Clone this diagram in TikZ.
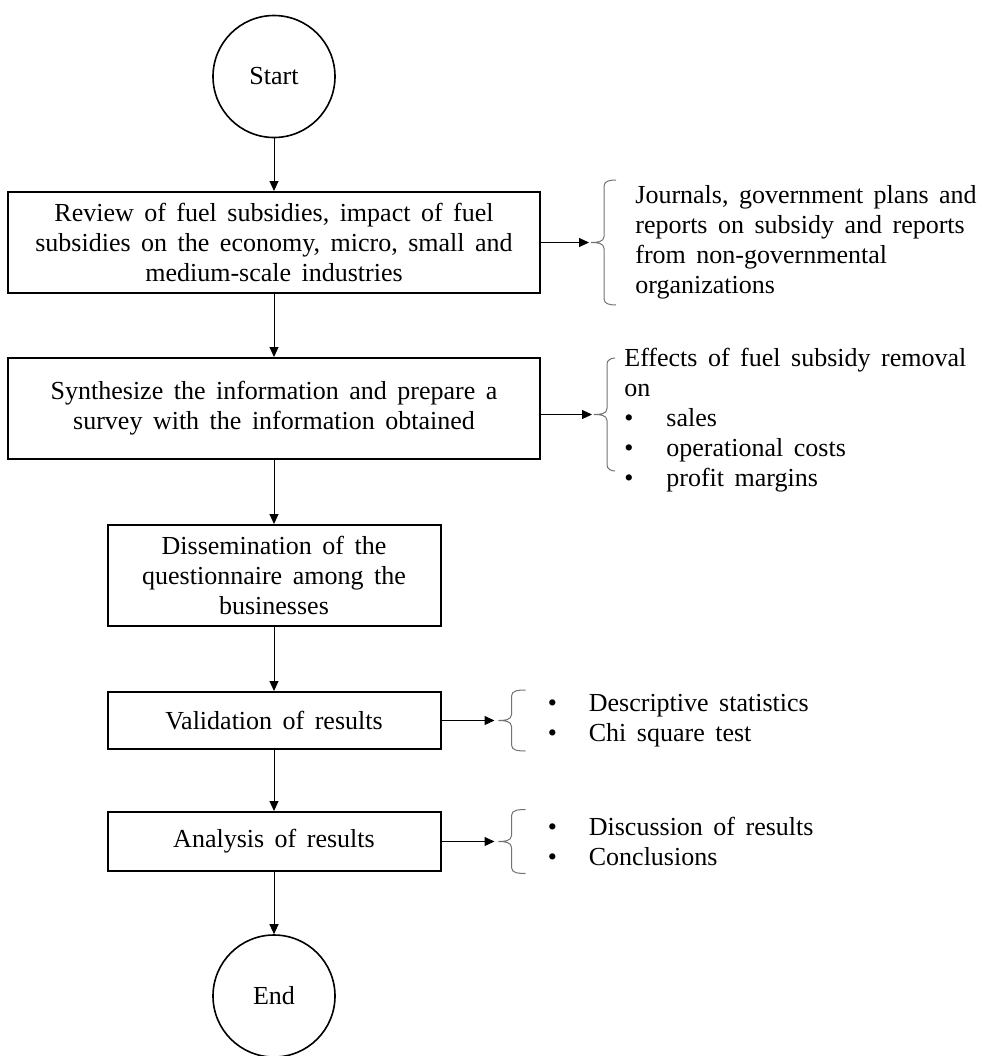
\documentclass[tikz,border=0pt]{standalone}
\usepackage{fontspec}
\setmainfont{Liberation Serif}
\usetikzlibrary{arrows.meta}

\begin{document}
\begin{tikzpicture}[node distance=83pt, >={Triangle[length=5pt,width=4.5pt]}]
    \tikzstyle{terminal} = [circle, draw, line width=0.8pt, minimum size=61pt, font={\fontsize{13pt}{15pt}\selectfont\spaceskip 5.25pt\relax}]
    \tikzstyle{wide} = [rectangle, draw, line width=1pt, minimum width=266pt, minimum height=50.5pt, align=center, font={\fontsize{13pt}{15pt}\selectfont\spaceskip 5.25pt\relax}]
    \tikzstyle{narrow} = [rectangle, draw, line width=1pt, minimum width=166.5pt, minimum height=28.5pt, align=center, font={\fontsize{13pt}{15pt}\selectfont\spaceskip 5.25pt\relax}]
    \tikzstyle{note} = [anchor=west, align=left, inner sep=0pt, font={\fontsize{13pt}{15pt}\selectfont\spaceskip 5.25pt\relax}]
    \tikzstyle{link} = [->, line width=0.5pt]
    \tikzstyle{curly} = [draw=black!55, line width=0.5pt]

    \useasboundingbox (0,0) rectangle (493.5pt,-528pt);

    % Main flow
    \node [terminal] (start) at (137pt,-38.25pt) {Start};
    \node [wide, below of=start] (review) {Review of fuel subsidies, impact of fuel\\subsidies on the economy, micro, small and\\medium-scale industries};
    \node [wide, below of=review] (synth) {Synthesize the information and prepare a\\survey with the information obtained};
    \node [narrow, below of=synth, minimum height=50.5pt, yshift=-0.5pt] (dissem) {Dissemination of the\\questionnaire among the\\businesses};
    \node [narrow, below of=dissem, yshift=10.5pt] (valid) {Validation of results};
    \node [narrow, below of=valid, yshift=22.5pt, minimum height=29.5pt] (analysis) {Analysis of results};
    \node [terminal, below of=analysis, yshift=5.75pt] (stop) {End};

    % Side notes
    \node [note] (sources) at ([xshift=47pt]review.east) {Journals, government plans and\\reports on subsidy and reports\\from non-governmental\\organizations};
    \node [note] (effects) at ([xshift=41.5pt,yshift=-5.75pt]synth.east) {Effects of fuel subsidy removal\\on\\\makebox[21pt][l]{\textbullet}sales\\\makebox[21pt][l]{\textbullet}operational costs\\\makebox[21pt][l]{\textbullet}profit margins};
    \node [note] (stats) at ([xshift=53pt]valid.east) {\makebox[20.5pt][l]{\textbullet}Descriptive statistics\\\makebox[20.5pt][l]{\textbullet}Chi square test};
    \node [note] (closing) at ([xshift=53pt]analysis.east) {\makebox[20.5pt][l]{\textbullet}Discussion of results\\\makebox[20.5pt][l]{\textbullet}Conclusions};

    % Brace tips
    \coordinate (tipA) at ([xshift=24pt]review.east);
    \coordinate (tipB) at ([xshift=25.5pt,yshift=-3pt]synth.east);
    \coordinate (tipC) at ([xshift=26.5pt]valid.east);
    \coordinate (tipD) at ([xshift=26.5pt]analysis.east);

    % Connections
    \draw [link] (start) -- (review);
    \draw [link] (review) -- (synth);
    \draw [link] (synth) -- (dissem);
    \draw [link] (dissem) -- (valid);
    \draw [link] (valid) -- (analysis);
    \draw [link] (analysis) -- (stop);

    \draw [link] (review) -- (tipA);
    \draw [link] ([yshift=-3pt]synth.east) -- (tipB);
    \draw [link] (valid) -- (tipC);
    \draw [link] (analysis) -- (tipD);

    % Braces
    \draw [curly] ([xshift=37.5pt,yshift=31.25pt]review.east) to[out=180,in=90] ++(-6pt,-3pt) -- ++(0,-25.25pt) to[out=-90,in=0] ++(-6.5pt,-3pt) to[out=0,in=90] ++(6.5pt,-3pt) -- ++(0,-25.25pt) to[out=-90,in=180] ++(6pt,-3pt);
    \draw [curly] ([xshift=37pt,yshift=25.25pt]synth.east) to[out=180,in=90] ++(-4pt,-3pt) -- ++(0,-22.25pt) to[out=-90,in=0] ++(-6.5pt,-3pt) to[out=0,in=90] ++(6.5pt,-3pt) -- ++(0,-22.25pt) to[out=-90,in=180] ++(4pt,-3pt);
    \draw [curly] ([xshift=42pt,yshift=15.25pt]valid.east) to[out=180,in=90] ++(-7pt,-3pt) -- ++(0,-9.25pt) to[out=-90,in=0] ++(-6.5pt,-3pt) to[out=0,in=90] ++(6.5pt,-3pt) -- ++(0,-9.25pt) to[out=-90,in=180] ++(7pt,-3pt);
    \draw [curly] ([xshift=42pt,yshift=16pt]analysis.east) to[out=180,in=90] ++(-7pt,-3pt) -- ++(0,-10pt) to[out=-90,in=0] ++(-6.5pt,-3pt) to[out=0,in=90] ++(6.5pt,-3pt) -- ++(0,-10pt) to[out=-90,in=180] ++(7pt,-3pt);
\end{tikzpicture}
\end{document}
